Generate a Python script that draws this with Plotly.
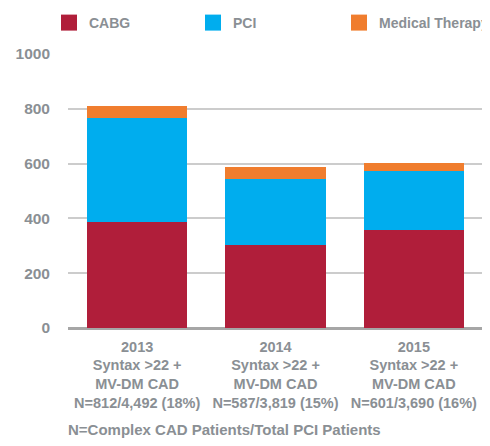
import plotly.graph_objects as go

categories = ["2013", "2014", "2015"]
tick_labels = [
    "2013<br>Syntax >22 +<br>MV-DM CAD<br>N=812/4,492 (18%)",
    "2014<br>Syntax >22 +<br>MV-DM CAD<br>N=587/3,819 (15%)",
    "2015<br>Syntax >22 +<br>MV-DM CAD<br>N=601/3,690 (16%)",
]
series_names = ["CABG", "PCI", "Medical Therapy"]
cabg = [388, 304, 359]
pci = [380, 241, 213]
medical = [44, 42, 29]
colors = ["#b01e3a", "#00adee", "#f07d2e"]

GRAY = "#8a8f94"
FONT = "Liberation Sans"

W, H = 500, 446
ML, MR, MT, MB = 60, 25, 46, 126
PW, PH = W - ML - MR, H - MT - MB

legend_ids = ["legend", "legend2", "legend3"]
legend_left_px = [47, 191, 337]

fig = go.Figure()
for name, vals, col in zip(series_names, [cabg, pci, medical], colors):
    fig.add_trace(go.Bar(name=name, x=categories, y=vals, marker_color=col,
                         marker_line_width=0, showlegend=False, legendgroup=name))
# legend entries with larger square swatches, one legend per entry
for name, col, lid in zip(series_names, colors, legend_ids):
    fig.add_trace(go.Scatter(name=name, x=[None], y=[None], mode="markers",
                             marker=dict(symbol="square", size=16, color=col),
                             legendgroup=name, showlegend=True, legend=lid))

legend_common = dict(
    orientation="h", y=1 + (MT + 1) / PH, xanchor="left", yanchor="top",
    font=dict(size=14, color=GRAY, family=FONT, weight="bold"),
    itemwidth=30, itemsizing="trace", indentation=-6,
)

layout_legends = {
    lid: dict(legend_common, x=(px - ML) / PW)
    for lid, px in zip(legend_ids, legend_left_px)
}

fig.update_layout(
    barmode="stack",
    bargap=0.277,
    width=W, height=H,
    margin=dict(l=ML, r=MR, t=MT, b=MB, autoexpand=False),
    plot_bgcolor="white", paper_bgcolor="white",
    font=dict(family=FONT, color=GRAY, size=14, weight="bold"),
    showlegend=True,
    xaxis=dict(
        tickmode="array", tickvals=categories, ticktext=tick_labels,
        showgrid=False, showline=False, ticks="", automargin=False,
        ticklabelstandoff=8,
        tickfont=dict(size=14.5, color=GRAY, family=FONT, weight="bold"),
    ),
    yaxis=dict(
        range=[0, 1000], tickvals=[0, 200, 400, 600, 800, 1000],
        showgrid=True, gridcolor="#cccccc", gridwidth=1.5,
        zeroline=True, zerolinecolor="#a6a6a6", zerolinewidth=2.5,
        showline=False, ticks="", ticklabelstandoff=17, automargin=False,
        tickfont=dict(size=15.5, color=GRAY, family=FONT, weight="bold"),
    ),
    **layout_legends,
)
fig.add_annotation(
    text="N=Complex CAD Patients/Total PCI Patients",
    xref="paper", yref="paper", x=-0.005, y=-0.372, xanchor="left", yanchor="middle",
    showarrow=False, font=dict(size=15, color=GRAY, family=FONT, weight="bold"),
)
fig.write_html("out.html")
